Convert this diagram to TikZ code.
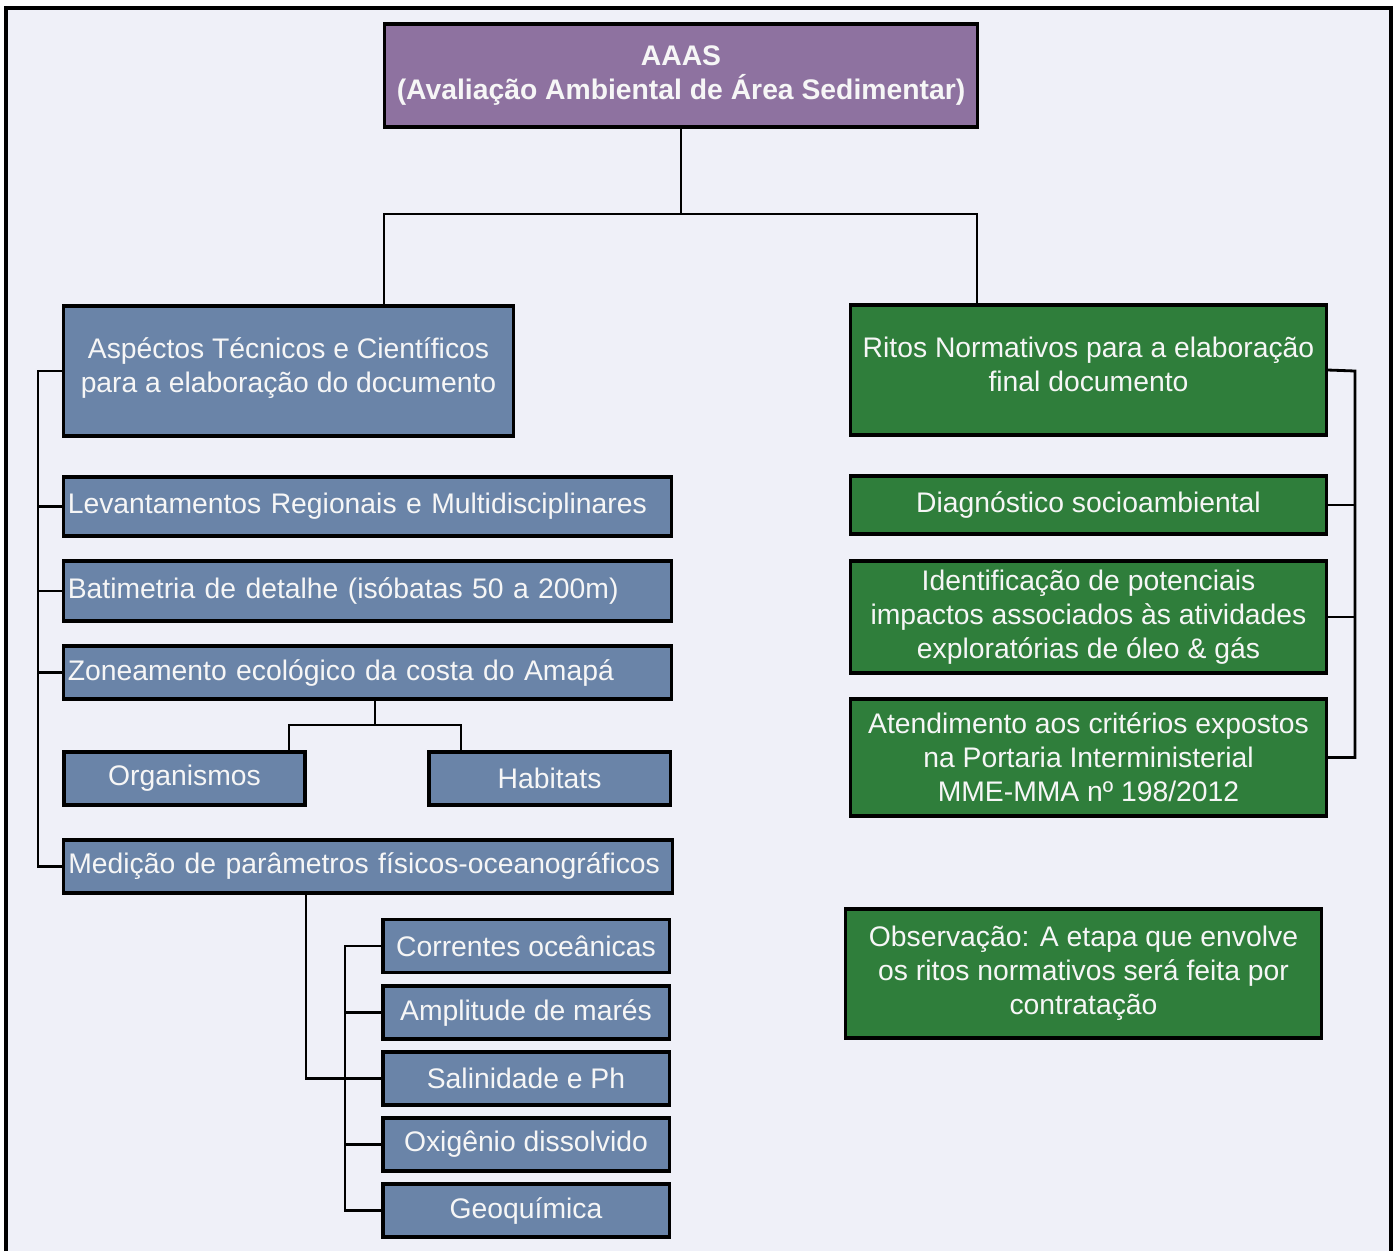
\documentclass[tikz,border=0pt]{standalone}
\usepackage{fontspec}
\setmainfont{Liberation Sans}
\usepackage{tikz}

\definecolor{bgcol}{RGB}{239,240,248}
\definecolor{purplebox}{RGB}{142,114,160}
\definecolor{bluebox}{RGB}{106,132,168}
\definecolor{greenbox}{RGB}{47,126,59}
\definecolor{boxtext}{RGB}{246,246,246}

\begin{document}
\begin{tikzpicture}[x=0.01cm,y=-0.01cm]
    \tikzstyle{box}=[draw=black,line width=0.9pt,text=boxtext,align=center,inner sep=0pt,font=\fontsize{8.05}{9.67}\selectfont]
    \tikzstyle{topbox}=[box,fill=purplebox,font=\fontsize{8.05}{9.67}\selectfont\bfseries,minimum width=5.92cm,minimum height=1.03cm]
    \tikzstyle{bbox}=[box,fill=bluebox]
    \tikzstyle{gbox}=[box,fill=greenbox,minimum width=4.75cm]
    \tikzstyle{widebox}=[bbox,minimum width=6.07cm,text width=5.99cm,align=left]
    \tikzstyle{subbox}=[bbox,minimum width=2.86cm,minimum height=0.53cm]
    \tikzstyle{link}=[draw=black,line width=0.8pt]
    \useasboundingbox (0,0) rectangle (1398,1251);
    % frame
    \fill[bgcol] (6,8) rectangle (1391,1251);
    \draw[line width=0.9pt] (6,1251) -- (6,8) -- (1391,8) -- (1391,1251);

    % top
    \node (aaas)[topbox] at (681,75.5) {AAAS\\(Avaliação Ambiental de Área Sedimentar)};
    \node (tec)[bbox,minimum width=4.49cm,minimum height=1.30cm,text depth=0.12cm] at (288.5,371) {Aspéctos Técnicos e Científicos\\para a elaboração do documento};
    \node (ritos)[gbox,minimum height=1.30cm,text depth=0.12cm] at (1088.5,370) {Ritos Normativos para a elaboração\\final documento};

    % left column
    \node (lev)[widebox,minimum height=0.59cm] at (367.5,506.5) {Levantamentos Regionais e Multidisciplinares};
    \node (bat)[widebox,minimum height=0.60cm] at (367.5,591) {Batimetria de detalhe (isóbatas 50 a 200m)};
    \node (zon)[widebox,minimum height=0.53cm] at (367.5,672.5) {Zoneamento ecológico da costa do Amapá};
    \node (org)[bbox,minimum width=2.41cm,minimum height=0.53cm] at (184.5,778.5) {Organismos};
    \node (hab)[bbox,minimum width=2.41cm,minimum height=0.53cm] at (549.5,778.5) {Habitats};
    \node (med)[widebox,minimum width=6.08cm,minimum height=0.53cm] at (368,866.5) {\mbox{Medição de parâmetros físicos-oceanográficos}};
    \node (cor)[subbox] at (526,946) {Correntes oceânicas};
    \node (amp)[subbox] at (526,1012.5) {Amplitude de marés};
    \node (sal)[subbox] at (526,1078.5) {Salinidade e Ph};
    \node (oxi)[subbox] at (526,1144.5) {Oxigênio dissolvido};
    \node (geo)[subbox] at (526,1210.5) {Geoquímica};

    % right column
    \node (diag)[gbox,minimum height=0.58cm] at (1088.5,505) {Diagnóstico socioambiental};
    \node (ident)[gbox,minimum height=1.12cm] at (1088.5,617) {Identificação de potenciais\\impactos associados às atividades\\exploratórias de óleo \& gás};
    \node (atend)[gbox,minimum height=1.17cm] at (1088.5,757.5) {Atendimento aos critérios expostos\\na Portaria Interministerial\\MME-MMA nº 198/2012};
    \node (obs)[gbox,minimum height=1.29cm] at (1083.5,973.5) {Observação: A etapa que envolve\\os ritos normativos será feita por\\contratação};

    % connectors
    \coordinate (asplit) at (681,214);
    \coordinate (tectop) at (384,306);
    \coordinate (ritostop) at (977,305);
    \draw[link] (aaas.south) -- (asplit);
    \draw[link] (tectop) |- (asplit) -| (ritostop);

    \coordinate (lbus) at (38,371);
    \draw[link] (tec.west) -- (lbus) |- (med.west);
    \draw[link] (lbus |- lev) -- (lev.west);
    \draw[link] (lbus |- bat) -- (bat.west);
    \draw[link] (lbus |- zon) -- (zon.west);

    \coordinate (zsplit) at (375,725);
    \coordinate (orgtop) at (289,752);
    \coordinate (habtop) at (461,752);
    \draw[link] (zon.south -| zsplit) -- (zsplit);
    \draw[link] (orgtop) |- (zsplit) -| (habtop);

    \coordinate (meddrop) at (306,893);
    \draw[link] (meddrop) |- (sal.west);
    \coordinate (sbus) at (345,946);
    \draw[link] (cor.west) -- (sbus) |- (geo.west);
    \draw[link] (sbus |- amp) -- (amp.west);
    \draw[link] (sbus |- sal) -- (sal.west);
    \draw[link] (sbus |- oxi) -- (oxi.west);

    \coordinate (rbus) at (1355,371);
    \draw[link] (ritos.east) -- (rbus) |- (atend.east);
    \draw[link] (rbus |- diag) -- (diag.east);
    \draw[link] (rbus |- ident) -- (ident.east);
\end{tikzpicture}
\end{document}
